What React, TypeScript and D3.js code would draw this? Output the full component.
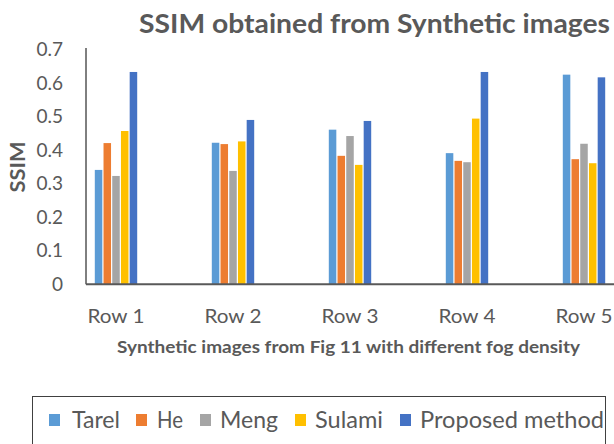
import React from "react";
import * as d3 from "d3";

const categories = ["Row 1", "Row 2", "Row 3", "Row 4", "Row 5"];
const seriesNames = ["Tarel", "He", "Meng", "Sulami", "Proposed method"];
const tarel = [0.341, 0.422, 0.461, 0.391, 0.625];
const he = [0.421, 0.418, 0.383, 0.368, 0.373];
const meng = [0.323, 0.338, 0.442, 0.364, 0.419];
const sulami = [0.457, 0.426, 0.356, 0.494, 0.361];
const proposed = [0.633, 0.49, 0.487, 0.633, 0.617];
const yTicks = [0, 0.1, 0.2, 0.3, 0.4, 0.5, 0.6, 0.7];
const colors = ["#5B9BD5", "#ED7D31", "#A5A5A5", "#FFC000", "#4472C4"];

const W = 614;
const H = 444;
const FONT = "Lato, 'Open Sans', sans-serif";
const GREY = "#595959";

// legend layout (pixels)
const legendSquareX = [49, 136, 200, 295, 400];
const legendTextX = [72, 157, 220, 315, 420];
const legendTextLen = [48, 26, 58, 68, 184];

export default function App() {
  const allSeries = [tarel, he, meng, sulami, proposed];
  const y = d3.scaleLinear().domain([0, 0.7]).range([284.3, 49.5]);
  const x = d3.scaleBand<string>().domain(categories).range([57.5, 57.5 + 117 * 5]).padding(0);
  const inner = d3.scaleBand<string>().domain(seriesNames).range([-21.8, 21.8]).padding(0);
  const barW = inner.bandwidth() - 1.2;

  return (
    <svg width={W} height={H} style={{ position: "absolute", left: 0, top: 0, background: "#fff" }}>
      <rect x={0} y={0} width={W} height={H} fill="#fff" />
      {/* title */}
      <text x={139} y={33} fontFamily={FONT} fontWeight="bold" fontSize={27} fill={GREY}
        textLength={471} lengthAdjust="spacingAndGlyphs">SSIM obtained from Synthetic images</text>

      {/* bars */}
      {categories.map((c, i) => (
        <g key={c}>
          {allSeries.map((s, j) => {
            const cx = (x(c) as number) + x.bandwidth() / 2 + (inner(seriesNames[j]) as number);
            return (
              <rect key={j} x={cx + 0.6} y={y(s[i])} width={barW} height={y(0) - y(s[i])} fill={colors[j]} />
            );
          })}
        </g>
      ))}

      {/* y axis */}
      <line x1={86} x2={86} y1={48} y2={284.3} stroke="#000" strokeWidth={1} />
      {yTicks.map((t) => (
        <text key={t} x={63} y={y(t)} dy="0.35em" textAnchor="end" fontFamily={FONT} fontSize={19} fill={GREY}>
          {t === 0 ? "0" : t.toFixed(1)}
        </text>
      ))}
      <text transform="translate(25,167) rotate(-90)" textAnchor="middle" fontFamily={FONT} fontWeight="bold"
        fontSize={20} fill={GREY} textLength={51} lengthAdjust="spacingAndGlyphs">SSIM</text>

      {/* x axis */}
      <line x1={86} x2={W} y1={284.3} y2={284.3} stroke="#595959" strokeWidth={2} />
      {categories.map((c) => (
        <text key={c} x={(x(c) as number) + x.bandwidth() / 2} y={323} textAnchor="middle" fontFamily={FONT}
          fontSize={19} fill={GREY} textLength={57} lengthAdjust="spacingAndGlyphs">{c}</text>
      ))}
      <text x={117} y={353} fontFamily={FONT} fontWeight="bold" fontSize={17.5} fill={GREY}
        textLength={463} lengthAdjust="spacingAndGlyphs">Synthetic images from Fig 11 with different fog density</text>

      {/* legend */}
      <rect x={32.5} y={396.5} width={573} height={80} fill="none" stroke="#404040" strokeWidth={1} />
      {seriesNames.map((n, j) => (
        <g key={n}>
          <rect x={legendSquareX[j]} y={414} width={11} height={12} fill={colors[j]} />
          <text x={legendTextX[j]} y={428} fontFamily={FONT} fontSize={24} fill={GREY}
            textLength={legendTextLen[j]} lengthAdjust="spacingAndGlyphs">{n}</text>
        </g>
      ))}
    </svg>
  );
}
